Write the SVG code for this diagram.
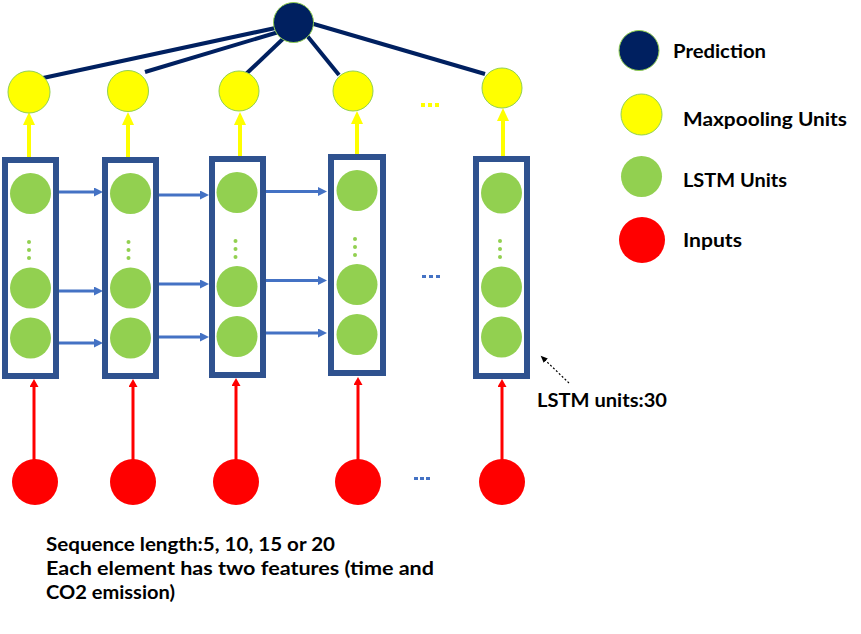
<svg xmlns="http://www.w3.org/2000/svg" width="861" height="634" viewBox="0 0 861 634">
<style>
.lbl{font-family:Lato,"Liberation Sans",sans-serif;font-weight:bold;font-size:19px;fill:#000}
.box{fill:none;stroke:#2F528F;stroke-width:6}
.lstm{fill:#92D050}
.dot{fill:#92D050}
.pool{fill:#FFFF00;stroke:#92D050;stroke-width:1}
.pred{fill:#002060;stroke:#92D050;stroke-width:1}
.inp{fill:#FF0000}
.pl{stroke:#002060;stroke-width:4;fill:none}
.ya{stroke:#FFFF00;stroke-width:4;fill:none;marker-end:url(#mY)}
.ba{stroke:#4472C4;stroke-width:3;fill:none;marker-end:url(#mB)}
.ra{stroke:#FF0000;stroke-width:3;fill:none;marker-end:url(#mR)}
</style>
<defs>
<marker id="mY" markerUnits="userSpaceOnUse" markerWidth="14" markerHeight="13" refX="3" refY="6" orient="auto"><path d="M0,0 L13,6 L0,12 z" fill="#FFFF00"/></marker>
<marker id="mB" markerUnits="userSpaceOnUse" markerWidth="10" markerHeight="10" refX="3" refY="4.5" orient="auto"><path d="M0,0 L9,4.5 L0,9 z" fill="#4472C4"/></marker>
<marker id="mR" markerUnits="userSpaceOnUse" markerWidth="9" markerHeight="10" refX="2" refY="4.5" orient="auto"><path d="M0,0 L8,4.5 L0,9 z" fill="#FF0000"/></marker>
<marker id="mK" markerUnits="userSpaceOnUse" markerWidth="8" markerHeight="7" refX="1" refY="3" orient="auto"><path d="M0,0 L7,3 L0,6 z" fill="#000"/></marker>
</defs>
<rect width="861" height="634" fill="#fff"/>

<g id="connectors">
  <line class="pl" x1="43" y1="78" x2="280" y2="27"/>
  <line class="pl" x1="145" y1="72" x2="282" y2="31"/>
  <line class="pl" x1="246" y1="74" x2="286" y2="36"/>
  <line class="pl" x1="339" y1="75" x2="300" y2="27"/>
  <line class="pl" x1="485" y1="74" x2="300" y2="20"/>
  <line class="ya" x1="29" y1="157" x2="29" y2="122"/>
  <line class="ya" x1="128" y1="157" x2="128" y2="122"/>
  <line class="ya" x1="240" y1="156" x2="240" y2="122"/>
  <line class="ya" x1="357" y1="154" x2="357" y2="121"/>
  <line class="ya" x1="503" y1="156" x2="503" y2="118"/>
  <line class="ba" x1="59" y1="192" x2="97" y2="192"/>
  <line class="ba" x1="59" y1="291" x2="97" y2="291"/>
  <line class="ba" x1="59" y1="343" x2="97" y2="343"/>
  <line class="ba" x1="159" y1="195" x2="203" y2="195"/>
  <line class="ba" x1="159" y1="284" x2="203" y2="284"/>
  <line class="ba" x1="159" y1="337" x2="203" y2="337"/>
  <line class="ba" x1="266" y1="191.5" x2="321" y2="191.5"/>
  <line class="ba" x1="266" y1="280.5" x2="321" y2="280.5"/>
  <line class="ba" x1="266" y1="333" x2="321" y2="333"/>
  <line class="ra" x1="34" y1="460" x2="34" y2="385"/>
  <line class="ra" x1="133" y1="460" x2="133" y2="385"/>
  <line class="ra" x1="236" y1="460" x2="236" y2="384"/>
  <line class="ra" x1="358" y1="460" x2="358" y2="383"/>
  <line class="ra" x1="502" y1="460" x2="502" y2="385"/>
  <line x1="569" y1="383" x2="545" y2="360" stroke="#000" stroke-width="1.2" stroke-dasharray="2,2" marker-end="url(#mK)"/>
</g>

<g id="prediction"><circle class="pred" cx="293.5" cy="22.5" r="20"/></g>

<g id="pool1"><circle class="pool" cx="29" cy="92" r="21"/></g>
<g id="pool2"><circle class="pool" cx="128" cy="91" r="20.5"/></g>
<g id="pool3"><circle class="pool" cx="239" cy="91" r="20"/></g>
<g id="pool4"><circle class="pool" cx="353" cy="91" r="20"/></g>
<g id="pool5"><circle class="pool" cx="502" cy="88" r="20"/></g>
<g id="pool-ellipsis" fill="#FFFF00">
  <rect x="421" y="103" width="4" height="4"/><rect x="428" y="103" width="4" height="4"/><rect x="435" y="103" width="4" height="4"/>
</g>

<g id="lstm1">
  <rect class="box" x="5" y="160" width="51" height="216"/>
  <circle class="lstm" cx="30.5" cy="193.5" r="20.5"/>
  <circle class="dot" cx="29" cy="242" r="2"/><circle class="dot" cx="29" cy="250" r="2"/><circle class="dot" cx="29" cy="258" r="2"/>
  <circle class="lstm" cx="30.5" cy="288" r="20.5"/>
  <circle class="lstm" cx="30.5" cy="338" r="20.5"/>
</g>
<g id="lstm2">
  <rect class="box" x="105" y="160" width="51" height="216"/>
  <circle class="lstm" cx="130.5" cy="193.5" r="20.5"/>
  <circle class="dot" cx="128.5" cy="242" r="2"/><circle class="dot" cx="128.5" cy="250" r="2"/><circle class="dot" cx="128.5" cy="258" r="2"/>
  <circle class="lstm" cx="130.5" cy="288" r="20.5"/>
  <circle class="lstm" cx="130.5" cy="338" r="20.5"/>
</g>
<g id="lstm3">
  <rect class="box" x="212" y="159" width="51" height="216"/>
  <circle class="lstm" cx="237" cy="192.5" r="20.5"/>
  <circle class="dot" cx="235.5" cy="241" r="2"/><circle class="dot" cx="235.5" cy="249" r="2"/><circle class="dot" cx="235.5" cy="257" r="2"/>
  <circle class="lstm" cx="237" cy="286.5" r="20.5"/>
  <circle class="lstm" cx="237" cy="336.5" r="20.5"/>
</g>
<g id="lstm4">
  <rect class="box" x="331" y="157" width="52" height="216"/>
  <circle class="lstm" cx="357" cy="190.5" r="20.5"/>
  <circle class="dot" cx="355" cy="239" r="2"/><circle class="dot" cx="355" cy="247" r="2"/><circle class="dot" cx="355" cy="255" r="2"/>
  <circle class="lstm" cx="357" cy="284.5" r="20.5"/>
  <circle class="lstm" cx="357" cy="334.5" r="20.5"/>
</g>
<g id="lstm5">
  <rect class="box" x="476" y="159" width="51" height="217"/>
  <circle class="lstm" cx="501.5" cy="193" r="20.5"/>
  <circle class="dot" cx="500" cy="241" r="2"/><circle class="dot" cx="500" cy="249" r="2"/><circle class="dot" cx="500" cy="257" r="2"/>
  <circle class="lstm" cx="501.5" cy="287" r="20.5"/>
  <circle class="lstm" cx="501.5" cy="337" r="20.5"/>
</g>
<g id="lstm-ellipsis" fill="#4472C4">
  <rect x="422" y="275" width="4" height="3"/><rect x="429" y="275" width="4" height="3"/><rect x="436" y="275" width="4" height="3"/>
</g>

<g id="input1"><circle class="inp" cx="35" cy="482" r="23"/></g>
<g id="input2"><circle class="inp" cx="133" cy="482" r="23"/></g>
<g id="input3"><circle class="inp" cx="236" cy="482" r="23"/></g>
<g id="input4"><circle class="inp" cx="358" cy="482" r="23"/></g>
<g id="input5"><circle class="inp" cx="502" cy="482" r="23"/></g>
<g id="input-ellipsis" fill="#4472C4">
  <rect x="414" y="477" width="4" height="3"/><rect x="420" y="477" width="4" height="3"/><rect x="426" y="477" width="4" height="3"/>
</g>

<g id="legend">
  <circle class="pred" cx="639" cy="50.5" r="20"/>
  <text class="lbl" x="673" y="58" textLength="93" lengthAdjust="spacingAndGlyphs">Prediction</text>
  <circle class="pool" cx="641.5" cy="114.5" r="20.5"/>
  <text class="lbl" x="683" y="126" textLength="164" lengthAdjust="spacingAndGlyphs">Maxpooling Units</text>
  <circle class="lstm" cx="641.5" cy="176.5" r="20.5"/>
  <text class="lbl" x="683" y="187" textLength="104" lengthAdjust="spacingAndGlyphs">LSTM Units</text>
  <circle class="inp" cx="642" cy="240" r="23"/>
  <text class="lbl" x="683" y="247" textLength="59" lengthAdjust="spacingAndGlyphs">Inputs</text>
</g>

<g id="lstm-units-label">
  <text class="lbl" x="537" y="407" textLength="130" lengthAdjust="spacingAndGlyphs">LSTM units:30</text>
</g>

<g id="sequence-note">
  <text class="lbl" x="46" y="551" textLength="289" lengthAdjust="spacingAndGlyphs">Sequence length:5, 10, 15 or 20</text>
  <text class="lbl" x="46" y="575" textLength="388" lengthAdjust="spacingAndGlyphs">Each element has two features (time and</text>
  <text class="lbl" x="46" y="599" textLength="129" lengthAdjust="spacingAndGlyphs">CO2 emission)</text>
</g>
</svg>
